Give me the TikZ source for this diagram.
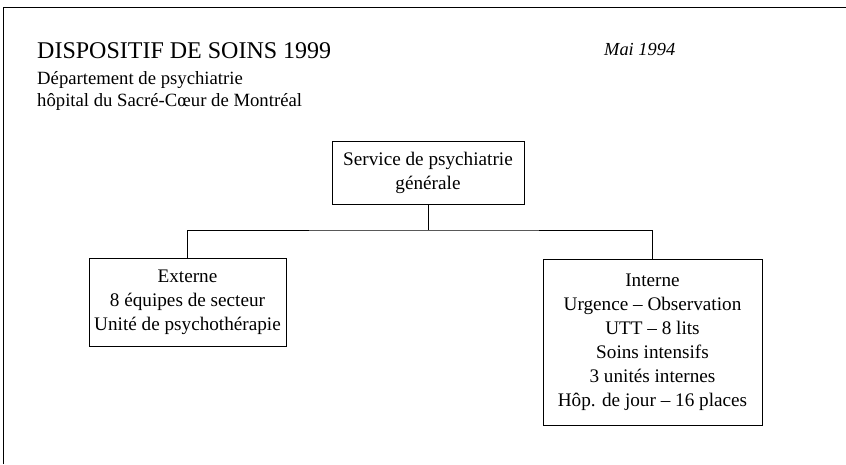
\documentclass[tikz,border=0pt]{standalone}
\usepackage{fontspec}
\setmainfont{Liberation Serif}
\usetikzlibrary{positioning}
\tikzset{bloc/.style={draw, line width=0.8pt, align=center, inner sep=0pt,
    execute at begin node=\rule{0pt}{19pt}, font=\fontsize{19.2}{24}\selectfont}}

\begin{document}
\begin{tikzpicture}[x=1pt,y=-1pt]
        \useasboundingbox (0,0) rectangle (846,464);
        \draw [line width=0.9pt] (3,464) -- (3,7) -- (846,7); 
        % titre
        \node [anchor=base west, inner sep=0pt, font=\fontsize{24}{28}\selectfont] (titre) at (37,58) {DISPOSITIF DE SOINS 1999};
        \node [anchor=base west, inner sep=0pt, font=\fontsize{18.7}{22}\selectfont] (dept) at (37,84) {Département de psychiatrie};
        \node [anchor=base west, inner sep=0pt, font=\fontsize{18.7}{22}\selectfont] (hop) at (37,106) {hôpital du Sacré-Cœur de Montréal};
        \node [anchor=base west, inner sep=0pt, font=\fontsize{18.4}{22}\selectfont\itshape] (date) at (604,55) {Mai 1994};
        % organigramme
        \node [bloc, minimum width=192pt, minimum height=63pt] (service) at (428,172.5) {Service de psychiatrie\\générale};
        \node [bloc, minimum width=197pt, minimum height=88pt] (externe) at (187.5,302) {Externe\\8 équipes de secteur\\Unité de psychothérapie};
        \node [bloc, minimum width=219pt, minimum height=166pt] (interne) at (652.5,342) {Interne\\Urgence -- Observation\\UTT -- 8 lits\\Soins intensifs\\3 unités internes\\Hôp. de jour -- 16 places};
        \coordinate (bus) at (428,230);
        \draw [line width=0.8pt] (service.south) -- (bus); 
        \draw [line width=0.8pt] (externe.north) |- (bus) -| (interne.north); 
    \end{tikzpicture}
\end{document}
